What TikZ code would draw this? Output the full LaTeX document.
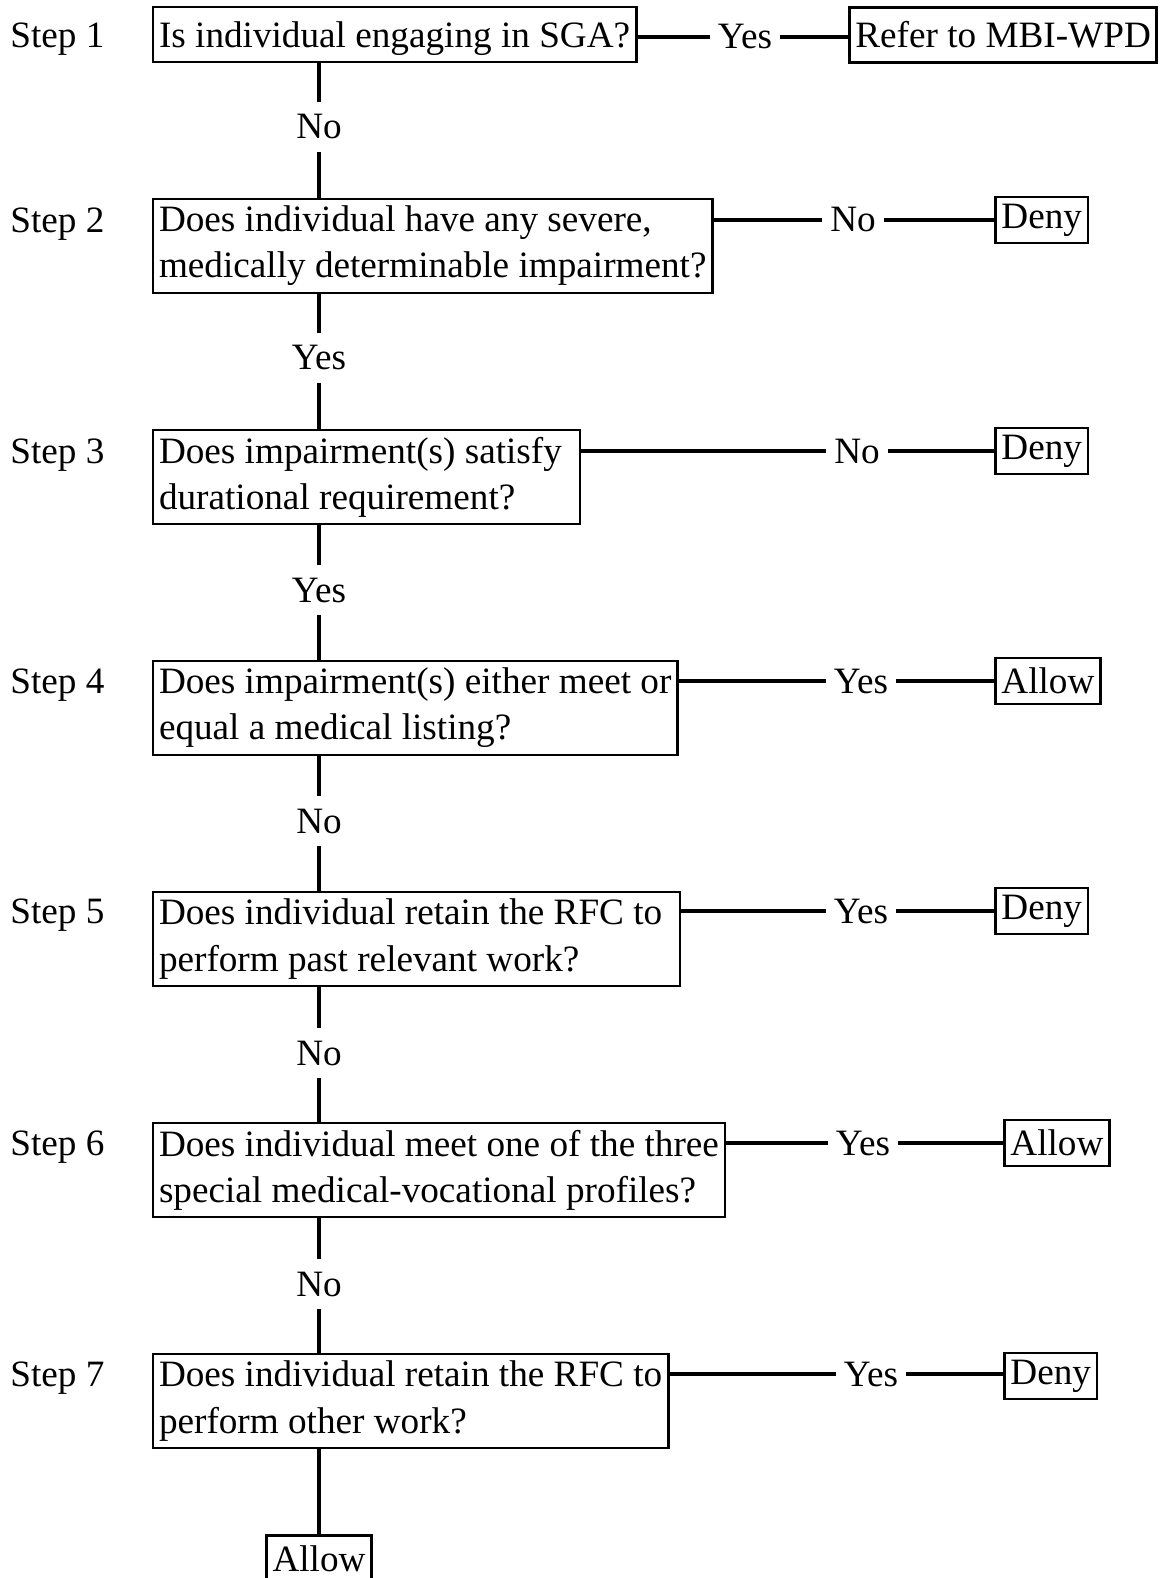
\documentclass[tikz,border=0pt]{standalone}
\usepackage{fontspec}
\setmainfont{Liberation Serif}
\usetikzlibrary{positioning}

\begin{document}
\begin{tikzpicture}[
    x=0.5pt, y=-0.5pt,
    node distance=68.5pt,
    every node/.style={font=\fontsize{18.6pt}{23.1pt}\selectfont},
    question/.style={draw, line width=1.4pt, outer sep=0pt, align=left, inner xsep=3pt, inner ysep=2pt, minimum height=47pt},
    result/.style={draw, line width=1.4pt, inner xsep=3pt, inner ysep=1pt, minimum height=23pt},
    answer/.style={inner xsep=4pt, inner ysep=0pt, minimum height=25pt},
    steplabel/.style={anchor=west, inner sep=0pt, text depth=0pt},
    link/.style={line width=2pt}
]
    \useasboundingbox (0,0) rectangle (1161,1578);

    % Questions
    \node[question, minimum height=27.5pt, text depth=0pt, anchor=north west] (q1) at (153,7) {Is individual engaging in SGA?};
    \node[question, below=of q1.south west, anchor=north west] (q2) {Does individual have any severe,\\medically determinable impairment?};
    \node[question, text width=207.5pt, align=flush left, below=of q2.south west, anchor=north west] (q3) {Does impairment(s) satisfy\\durational requirement?};
    \node[question, below=of q3.south west, anchor=north west] (q4) {Does impairment(s) either meet or\\equal a medical listing?};
    \node[question, text width=257.5pt, align=flush left, below=of q4.south west, anchor=north west] (q5) {Does individual retain the RFC to\\perform past relevant work?};
    \node[question, below=of q5.south west, anchor=north west] (q6) {Does individual meet one of the three\\special medical-vocational profiles?};
    \node[question, below=of q6.south west, anchor=north west] (q7) {Does individual retain the RFC to\\perform other work?};

    % Step labels
    \node[steplabel] (s1) at (10,35) {Step 1};
    \node[steplabel] (s2) at (10,220) {Step 2};
    \node[steplabel] (s3) at (10,451) {Step 3};
    \node[steplabel] (s4) at (10,681) {Step 4};
    \node[steplabel] (s5) at (10,911) {Step 5};
    \node[steplabel] (s6) at (10,1143) {Step 6};
    \node[steplabel] (s7) at (10,1374) {Step 7};

    % Answers down the column
    \node[answer] (d1) at (319,127) {No};
    \node[answer] (d2) at (319,358) {Yes};
    \node[answer] (d3) at (319,590) {Yes};
    \node[answer] (d4) at (319,821) {No};
    \node[answer] (d5) at (319,1053) {No};
    \node[answer] (d6) at (319,1284) {No};

    % Answers to the right
    \node[answer] (a1) at (745,37) {Yes};
    \node[answer] (a2) at (853,220) {No};
    \node[answer] (a3) at (857,451) {No};
    \node[answer] (a4) at (861,681) {Yes};
    \node[answer] (a5) at (861,911) {Yes};
    \node[answer] (a6) at (863,1143) {Yes};
    \node[answer] (a7) at (871,1374) {Yes};

    % Outcomes
    \node[result, minimum height=27.5pt, anchor=west] (r1) at (848,35) {Refer to MBI-WPD};
    \node[result, anchor=west] (r2) at (994,220) {Deny};
    \node[result, anchor=west] (r3) at (994,451) {Deny};
    \node[result, anchor=west] (r4) at (994,681) {Allow};
    \node[result, anchor=west] (r5) at (994,911) {Deny};
    \node[result, anchor=west] (r6) at (1003,1143) {Allow};
    \node[result, anchor=west] (r7) at (1003,1376) {Deny};
    \node[result, anchor=north] (r8) at (319,1534) {Allow};

    % Edges down
    \draw[link] (q1.south -| d1) -- (d1) -- (d1 |- q2.north);
    \draw[link] (q2.south -| d2) -- (d2) -- (d2 |- q3.north);
    \draw[link] (q3.south -| d3) -- (d3) -- (d3 |- q4.north);
    \draw[link] (q4.south -| d4) -- (d4) -- (d4 |- q5.north);
    \draw[link] (q5.south -| d5) -- (d5) -- (d5 |- q6.north);
    \draw[link] (q6.south -| d6) -- (d6) -- (d6 |- q7.north);
    \draw[link] (q7.south -| r8) -- (r8);

    % Edges right
    \draw[link] (q1.east |- a1) -- (a1) -- (a1 -| r1.west);
    \draw[link] (q2.east |- a2) -- (a2) -- (a2 -| r2.west);
    \draw[link] (q3.east |- a3) -- (a3) -- (a3 -| r3.west);
    \draw[link] (q4.east |- a4) -- (a4) -- (a4 -| r4.west);
    \draw[link] (q5.east |- a5) -- (a5) -- (a5 -| r5.west);
    \draw[link] (q6.east |- a6) -- (a6) -- (a6 -| r6.west);
    \draw[link] (q7.east |- a7) -- (a7) -- (a7 -| r7.west);
\end{tikzpicture}
\end{document}
